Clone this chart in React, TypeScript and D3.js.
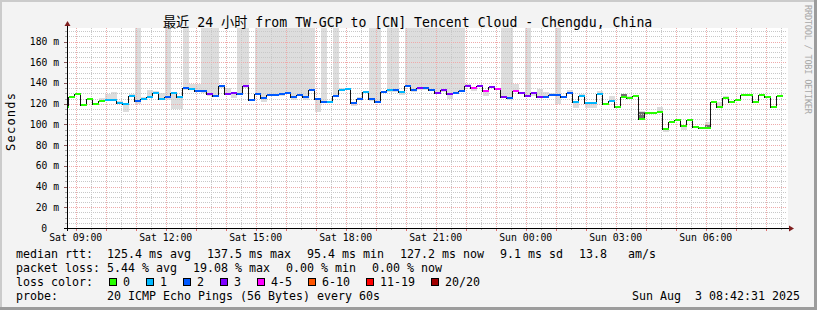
import React from 'react';
import * as d3 from 'd3';

const W = 817;
const H = 310;
const startTime = new Date(2025, 7, 2, 8, 42, 31);
const endTime = new Date(2025, 7, 3, 8, 42, 31);
const firstStep = new Date(2025, 7, 2, 8, 46, 0);
const STEP_MIN = 12;
const Y_MAX = 193.1;
const OFF = 250; // off-scale smoke top

const median = [
  116.8, 126.5, 129.7, 119.0, 124.9, 120.0, 122.3, 123.9, 123.9, 121.0,
  120.0, 127.1, 122.3, 124.9, 126.8, 130.7, 124.9, 126.5, 130.2, 126.5,
  135.2, 134.2, 132.3, 132.3, 129.7, 127.8, 137.4, 129.7, 130.7, 129.7,
  137.4, 123.9, 129.7, 125.5, 128.7, 128.7, 129.0, 130.7, 126.5, 128.7,
  126.5, 133.5, 124.9, 122.0, 122.0, 127.8, 133.2, 134.5, 121.0, 124.2,
  131.3, 124.5, 122.0, 131.3, 133.2, 133.2, 131.3, 137.4, 133.2, 135.2,
  135.2, 133.5, 130.7, 133.2, 129.7, 130.7, 132.6, 137.4, 135.2, 137.4,
  132.6, 136.1, 134.2, 126.8, 125.5, 132.6, 130.7, 127.8, 130.7, 126.8,
  126.8, 128.7, 128.7, 126.8, 130.7, 121.3, 127.1, 120.4, 120.4, 129.4,
  120.0, 122.9, 116.5, 126.8, 125.5, 127.8, 105.5, 111.3, 110.7, 111.7,
  95.4, 102.6, 104.3, 98.2, 103.9, 97.8, 96.6, 96.3, 121.7, 116.5,
  125.8, 122.0, 123.9, 128.1, 128.1, 122.0, 128.1, 126.8, 116.8, 127.2,
];

const lossCount = [
  0, 0, 0, 0, 0, 0, 0, 1, 1, 1,
  1, 1, 2, 1, 1, 1, 1, 2, 1, 1,
  2, 1, 2, 2, 3, 2, 2, 3, 3, 2,
  3, 2, 2, 2, 2, 2, 2, 2, 2, 2,
  2, 2, 2, 2, 1, 2, 1, 1, 2, 2,
  1, 2, 2, 2, 1, 2, 1, 2, 2, 3,
  2, 2, 3, 3, 3, 2, 2, 3, 4, 3,
  4, 3, 4, 3, 2, 4, 3, 3, 3, 3,
  2, 2, 2, 2, 2, 1, 1, 1, 1, 1,
  0, 1, 0, 0, 0, 0, 0, 0, 0, 0,
  0, 0, 0, 0, 0, 0, 0, 0, 0, 0,
  0, 0, 0, 0, 0, 0, 0, 0, 0, 0,
];

// light smoke range [lo, hi] per step (null = none)
const smokeLight: (number[] | null)[] = [
  null, null, null, null, null, null, [122.3, 125.5], [123.9, 129.5], [123.9, 131], [121, 122.8],
  [113, 120], [127.1, 129.5], [120.5, OFF], [124.9, 126.5], [126.8, 133.5], [130.7, 131.8], [124.9, 130], [125, OFF], [116, 130.2], [116, 126.5],
  [134, OFF], [134.2, 139], [132.3, 139], [131, OFF], [128.5, OFF], [127, OFF], [136.5, 138.5], [129.7, 135], [126.5, 130.7], [129, OFF],
  [136.5, OFF], [123.9, 125], [129, OFF], [122.7, OFF], [128, OFF], [128, OFF], [128.3, OFF], [130, OFF], [124.5, OFF], [128, OFF],
  [124.5, OFF], [132.8, OFF], [113, 124.9], [121.3, OFF], null, [127, OFF], [133.2, 135], null, [119, 121], [124.2, 126],
  null, [123.8, OFF], [121.3, OFF], [131.3, 132.5], [132.5, OFF], [132.5, OFF], [129.5, 131.3], [136.7, OFF], [132.5, OFF], [134.5, OFF],
  [134.5, OFF], [132.8, OFF], [130, OFF], [132.5, OFF], [125.5, OFF], [130, OFF], [131.9, OFF], [137.4, 139], [133.5, 135.2], null,
  [128.7, 132.6], null, null, [126, OFF], [124.8, OFF], [132.6, 139.3], null, [127, OFF], [128.5, 130.7], [126.8, 134.5],
  [126.8, 131], [128.7, 130], [120.7, OFF], null, [130.7, 133], [116.5, 121.3], [127.1, 129.4], [117, 120.4], [117, 120.4], [129.4, 132],
  null, [122.9, 127.2], null, [126.8, 129.7], [125.5, 127], null, [105.5, 112.5], null, null, [111.7, 116.5],
  [93.2, 95.4], null, null, [95.2, 98.2], null, null, null, [96.3, 102.6], null, [116.5, 121.5],
  [125.8, 127.3], null, null, null, null, null, null, null, null, null,
];

// darker smoke close to the median
const smokeDark: (number[] | null)[] = median.map(() => null);
smokeDark[6] = [122.3, 124.0];
smokeDark[93] = [126.8, 129.7];
smokeDark[96] = [105.5, 112.3];
smokeDark[107] = [96.3, 99.0];

const lossColors = ['#26ff00', '#00b8ff', '#0059ff', '#7e00ff', '#ff00ff', '#ff5500', '#ff0000', '#a00000'];
const lossLabels = ['0', '1', '2', '3', '4-5', '6-10', '11-19', '20/20'];
const lossBucket = (n: number) => (n <= 3 ? n : n <= 5 ? 4 : n <= 10 ? 5 : n <= 19 ? 6 : 7);

const yMajor = [0, 20, 40, 60, 80, 100, 120, 140, 160, 180];
const yLabels = ['0', '20 m', '40 m', '60 m', '80 m', '100 m', '120 m', '140 m', '160 m', '180 m'];

const MONO = "'DejaVu Sans Mono', 'Noto Sans CJK SC', monospace";

const legendRows = [
  { y: 258, items: [[16, 'median rtt:'], [107, '125.4 ms avg'], [207, '137.5 ms max'], [307, '95.4 ms min'], [400, '127.2 ms now'], [500, '9.1 ms sd'], [579, '13.8'], [628, 'am/s']] },
  { y: 272, items: [[16, 'packet loss:'], [107, '5.44 % avg'], [193, '19.08 % max'], [286, '0.00 % min'], [372, '0.00 % now']] },
  { y: 300, items: [[16, 'probe:'], [107, '20 ICMP Echo Pings (56 Bytes) every 60s'], [632, 'Sun Aug  3 08:42:31 2025']] },
];
const lossSquareX = [109, 146, 183, 220, 257, 308, 366, 431];

export default function App() {
  const L = 67, R = 787, T = 28, B = 228;
  const x = d3.scaleTime().domain([startTime, endTime]).range([L, R]);
  const y = d3.scaleLinear().domain([0, Y_MAX]).range([B, T]);
  const tStart = (i: number) => d3.timeMinute.offset(firstStep, STEP_MIN * (i - 1));
  const tEnd = (i: number) => d3.timeMinute.offset(firstStep, STEP_MIN * i);

  const hours = d3.timeHour.range(d3.timeHour.ceil(startTime), endTime);
  const halfHours = d3.timeMinute.every(30)!.range(startTime, endTime).filter((d) => d.getMinutes() === 30);
  const minorY = d3.range(5, Y_MAX, 5).filter((v) => v % 20 !== 0);
  const fmt = d3.timeFormat('%a %H:%M');

  const stepPts: [Date, number][] = median.map((v, i) => [tStart(i), v] as [Date, number]);
  stepPts.push([tEnd(median.length - 1), median[median.length - 1]]);
  const stepLine = d3
    .line<[Date, number]>()
    .x((d) => Math.max(L, x(d[0])))
    .y((d) => Math.round(y(d[1])) + 0.5)
    .curve(d3.curveStepAfter);

  return (
    <svg width={W} height={H} style={{ position: 'absolute', left: 0, top: 0, display: 'block' }} fontFamily={MONO}>
      <defs>
        <clipPath id="plot">
          <rect x={L} y={T} width={R - L + 1} height={B - T} />
        </clipPath>
      </defs>
      <rect x={0} y={0} width={W} height={H} fill="#f3f3f3" />
      {/* frame */}
      <rect x={0} y={0} width={W} height={2} fill="#cbcbcb" />
      <rect x={0} y={0} width={2} height={H} fill="#cbcbcb" />
      <rect x={0} y={H - 3} width={W} height={3} fill="#9c9c9c" />
      <rect x={W - 3} y={0} width={3} height={H} fill="#9c9c9c" />

      <rect x={L} y={T} width={R - L + 1} height={B - T} fill="#ffffff" />

      <g clipPath="url(#plot)" shapeRendering="crispEdges">
        {smokeLight.map((s, i) =>
          s ? (
            <rect key={'sl' + i} x={Math.max(L, x(tStart(i)))} width={x(tEnd(i)) - Math.max(L, x(tStart(i)))}
              y={y(Math.min(s[1], Y_MAX + 5))} height={y(s[0]) - y(Math.min(s[1], Y_MAX + 5)) + 1} fill="#dddddd" />
          ) : null
        )}
        {smokeDark.map((s, i) =>
          s ? (
            <rect key={'sd' + i} x={Math.max(L, x(tStart(i)))} width={x(tEnd(i)) - Math.max(L, x(tStart(i)))}
              y={y(s[1])} height={y(s[0]) - y(s[1]) + 1} fill="#707070" />
          ) : null
        )}
      </g>

      {/* grid */}
      <g shapeRendering="crispEdges">
        {minorY.map((v) => (
          <line key={'my' + v} x1={L} x2={R} y1={Math.round(y(v)) + 0.5} y2={Math.round(y(v)) + 0.5} stroke="#c8c8c8" strokeDasharray="1 1" />
        ))}
        {halfHours.map((d) => (
          <line key={'mx' + +d} x1={Math.round(x(d)) + 0.5} x2={Math.round(x(d)) + 0.5} y1={T} y2={B} stroke="#c8c8c8" strokeDasharray="1 1" />
        ))}
        {yMajor.filter((v) => v > 0).map((v) => (
          <line key={'My' + v} x1={L} x2={R} y1={Math.round(y(v)) + 0.5} y2={Math.round(y(v)) + 0.5} stroke="#eeaaaa" strokeDasharray="1 1" />
        ))}
        {hours.map((d) => (
          <line key={'Mx' + +d} x1={Math.round(x(d)) + 0.5} x2={Math.round(x(d)) + 0.5} y1={T} y2={B} stroke="#eeaaaa" strokeDasharray="1 1" />
        ))}
      </g>

      {/* median line */}
      <g clipPath="url(#plot)" shapeRendering="crispEdges">
        <path d={stepLine(stepPts) || ''} fill="none" stroke="#111" strokeWidth={1} />
        {median.map((v, i) => {
          const x0 = Math.max(L, x(tStart(i)));
          return (
            <rect key={'c' + i} x={x0} width={x(tEnd(i)) - x0} y={Math.round(y(v)) - 1} height={2}
              fill={lossColors[lossBucket(lossCount[i])]} />
          );
        })}
      </g>

      {/* axes */}
      <g shapeRendering="crispEdges">
        {halfHours.map((d) => (
          <line key={'tx' + +d} x1={Math.round(x(d)) + 0.5} x2={Math.round(x(d)) + 0.5} y1={B} y2={B + 2} stroke="#aaa" />
        ))}
        {hours.map((d) => (
          <line key={'TX' + +d} x1={Math.round(x(d)) + 0.5} x2={Math.round(x(d)) + 0.5} y1={B} y2={B + 3} stroke="#e07070" />
        ))}
        {minorY.map((v) => (
          <line key={'ty' + v} x1={L - 2} x2={L} y1={Math.round(y(v)) + 0.5} y2={Math.round(y(v)) + 0.5} stroke="#aaa" />
        ))}
        {yMajor.map((v) => (
          <line key={'TY' + v} x1={L - 3} x2={L} y1={Math.round(y(v)) + 0.5} y2={Math.round(y(v)) + 0.5} stroke="#8a5a5a" />
        ))}
        <line x1={L - 3} x2={R + 3} y1={B + 0.5} y2={B + 0.5} stroke="#000" />
        <line x1={L + 0.5} x2={L + 0.5} y1={B + 3} y2={T - 3} stroke="#000" />
      </g>
      <path d={`M${L + 0.5},${T - 7} L${L - 2.5},${T - 2} L${L + 3.5},${T - 2} Z`} fill="#7f1f1f" />
      <path d={`M${R + 7},${B + 0.5} L${R + 2},${B - 2.5} L${R + 2},${B + 3.5} Z`} fill="#7f1f1f" />

      {/* y labels */}
      {yMajor.map((v, i) => (
        <text key={'yl' + v} x={v === 0 ? 47 : 59} y={y(v) + 3.5} textAnchor="end" fontSize={9.7} fill="#000">
          {yLabels[i]}
        </text>
      ))}
      {/* x labels */}
      {hours.filter((d) => d.getHours() % 3 === 0).map((d) => (
        <text key={'xl' + +d} x={x(d)} y={241} textAnchor="middle" fontSize={9.8} fill="#000">
          {fmt(d)}
        </text>
      ))}

      {/* title */}
      <text x={407.6} y={26.5} textAnchor="middle" fontSize={13.2} fill="#000">
        最近 24 小时 from TW-GCP to [CN] Tencent Cloud - Chengdu, China
      </text>
      {/* vertical label */}
      <text transform="translate(15,122) rotate(-90)" textAnchor="middle" fontSize={12} textLength={58} lengthAdjust="spacing" fill="#000">
        Seconds
      </text>
      <text transform="translate(805,5) rotate(90)" fontSize={8.6} textLength={109} lengthAdjust="spacing" fill="#a8a8a8">
        RRDTOOL / TOBI OETIKER
      </text>

      {/* legend */}
      {legendRows.map((row, ri) =>
        row.items.map(([lx, txt], k) => (
          <text key={'lg' + ri + '-' + k} x={lx as number} y={row.y} fontSize={11.63} fill="#000" style={{ whiteSpace: 'pre' }}>
            {txt as string}
          </text>
        ))
      )}
      <text x={16} y={286} fontSize={11.63} fill="#000">loss color:</text>
      {lossLabels.map((lab, i) => (
        <g key={'ls' + i}>
          <rect x={lossSquareX[i] + 0.5} y={278.5} width={7} height={7} fill={lossColors[i]} stroke="#000" strokeWidth={1} />
          <text x={lossSquareX[i] + 14} y={286} fontSize={11.63} fill="#000">{lab}</text>
        </g>
      ))}
    </svg>
  );
}
